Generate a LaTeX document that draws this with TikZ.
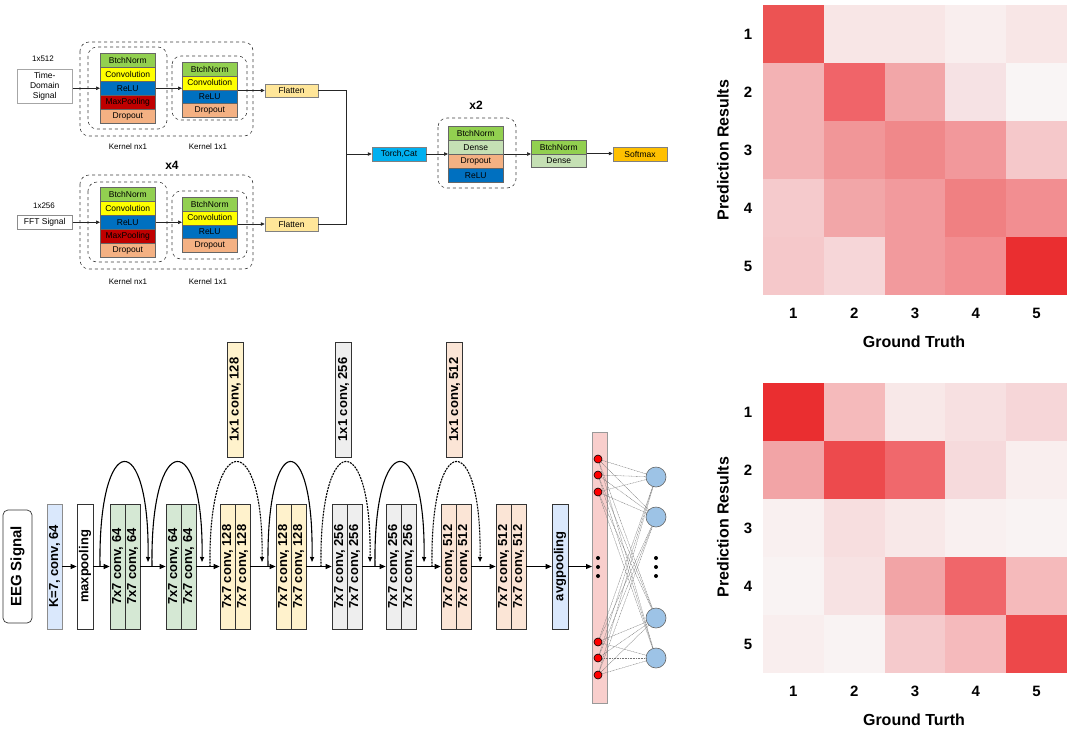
\documentclass[tikz,border=0pt]{standalone}
\usepackage{fontspec}
\setmainfont{Liberation Sans}
\usepackage{graphicx}
\usetikzlibrary{arrows.meta}
\definecolor{cbn}{HTML}{92D050}
\definecolor{cconv}{HTML}{FFFF00}
\definecolor{crelu}{HTML}{0070C0}
\definecolor{cmax}{HTML}{C00000}
\definecolor{cdrop}{HTML}{F4B183}
\definecolor{cdense}{HTML}{C5E0B4}
\definecolor{cflat}{HTML}{FFE699}
\definecolor{ctorch}{HTML}{00B0F0}
\definecolor{csoft}{HTML}{FFC000}
\definecolor{bblue}{HTML}{DAE8FC}
\definecolor{bgreen}{HTML}{D5E8D4}
\definecolor{byel}{HTML}{FFF2CC}
\definecolor{bgray}{HTML}{EEEEEE}
\definecolor{bpeach}{HTML}{FBE5D6}
\definecolor{bbar}{HTML}{F8CECC}
\definecolor{nblue}{HTML}{9DC3E6}
% top heatmap
\definecolor{ha11}{RGB}{236,83,83}\definecolor{ha12}{RGB}{248,230,230}\definecolor{ha13}{RGB}{248,230,230}\definecolor{ha14}{RGB}{249,238,238}\definecolor{ha15}{RGB}{248,230,230}
\definecolor{ha21}{RGB}{243,178,180}\definecolor{ha22}{RGB}{240,100,105}\definecolor{ha23}{RGB}{242,166,168}\definecolor{ha24}{RGB}{246,226,228}\definecolor{ha25}{RGB}{249,245,245}
\definecolor{ha31}{RGB}{243,178,180}\definecolor{ha32}{RGB}{241,150,152}\definecolor{ha33}{RGB}{240,136,138}\definecolor{ha34}{RGB}{242,152,155}\definecolor{ha35}{RGB}{245,200,202}
\definecolor{ha41}{RGB}{245,202,204}\definecolor{ha42}{RGB}{242,166,168}\definecolor{ha43}{RGB}{242,154,157}\definecolor{ha44}{RGB}{240,128,130}\definecolor{ha45}{RGB}{242,142,145}
\definecolor{ha51}{RGB}{245,200,202}\definecolor{ha52}{RGB}{246,214,216}\definecolor{ha53}{RGB}{242,154,157}\definecolor{ha54}{RGB}{242,142,145}\definecolor{ha55}{RGB}{234,46,48}
% bottom heatmap
\definecolor{hb11}{RGB}{234,46,48}\definecolor{hb12}{RGB}{245,186,187}\definecolor{hb13}{RGB}{248,232,232}\definecolor{hb14}{RGB}{247,224,225}\definecolor{hb15}{RGB}{246,214,216}
\definecolor{hb21}{RGB}{242,164,166}\definecolor{hb22}{RGB}{237,74,77}\definecolor{hb23}{RGB}{240,104,108}\definecolor{hb24}{RGB}{246,218,220}\definecolor{hb25}{RGB}{249,238,238}
\definecolor{hb31}{RGB}{249,240,240}\definecolor{hb32}{RGB}{247,222,223}\definecolor{hb33}{RGB}{248,232,232}\definecolor{hb34}{RGB}{249,240,240}\definecolor{hb35}{RGB}{249,243,243}
\definecolor{hb41}{RGB}{249,243,243}\definecolor{hb42}{RGB}{247,226,227}\definecolor{hb43}{RGB}{242,164,166}\definecolor{hb44}{RGB}{240,102,106}\definecolor{hb45}{RGB}{245,186,187}
\definecolor{hb51}{RGB}{249,238,238}\definecolor{hb52}{RGB}{249,243,243}\definecolor{hb53}{RGB}{245,202,204}\definecolor{hb54}{RGB}{245,186,188}\definecolor{hb55}{RGB}{237,72,74}
\tikzset{
 lay/.style={draw=black!60, line width=0.5pt, minimum width=55pt, minimum height=14pt, inner sep=0pt, anchor=north west, font=\fontsize{8.5}{9}\selectfont},
 layb/.style={lay, minimum height=13.75pt},
 sm/.style={font=\fontsize{8}{9}\selectfont},
 tbox/.style={draw=black!50, line width=0.5pt, inner sep=0pt, font=\fontsize{8.5}{9}\selectfont},
 tarr/.style={-{Triangle[length=4pt,width=3.5pt]}, line width=0.7pt, draw=black!85},
 dbox/.style={dashed, line width=0.6pt, draw=black!75, rounded corners=9pt},
 col/.style={draw=black!80, line width=0.7pt, minimum width=15pt, minimum height=125pt, inner sep=0pt, font=\fontsize{13}{14}\selectfont\bfseries},
 onebox/.style={col, minimum width=16pt, minimum height=115pt},
 barr/.style={-{Triangle[length=6pt,width=5pt]}, line width=1pt},
 skiparc/.style={-{Triangle[length=5pt,width=4pt]}, line width=1.1pt},
 dskiparc/.style={skiparc, dash pattern=on 2pt off 1pt},
 conn/.style={draw=black!55, line width=0.35pt, dash pattern=on 1pt off 0.6pt},
 rdot/.style={circle, draw=black, line width=0.6pt, fill=red, minimum size=8pt, inner sep=0pt},
 bcirc/.style={circle, draw=black!60, line width=0.6pt, fill=nblue, minimum size=20pt, inner sep=0pt},
 hm/.style={font=\fontsize{15}{16}\selectfont\bfseries},
 ht/.style={font=\fontsize{16}{17}\selectfont\bfseries}
}
\begin{document}
\begin{tikzpicture}[x=1pt,y=-1pt]
\useasboundingbox (0,0) rectangle (1080,732);
\fill[white] (0,0) rectangle (1080,732);

% ================= top diagram =================
\draw[dbox] (80,42) rectangle (253,136);
\draw[dbox] (88,47) rectangle (167,129);
\draw[dbox] (172,56) rectangle (247,120);
\draw[dbox] (80,175) rectangle (253,269);
\draw[dbox] (88,182) rectangle (167,262);
\draw[dbox] (172,191) rectangle (247,259);
\draw[dbox] (438,118) rectangle (516,188);

\node[sm] (l512) at (43,59) {1x512};
\node[draw=black!35, line width=0.5pt, minimum width=55pt, minimum height=34pt, anchor=north west, inner sep=0pt, align=center, font=\fontsize{8.5}{10}\selectfont] (td) at (17,69) {Time-\\Domain\\Signal};
\node[sm] (l256) at (44,206) {1x256};
\node[draw=black!45, line width=0.5pt, minimum width=55pt, minimum height=14pt, anchor=north west, inner sep=0pt, font=\fontsize{8.5}{9}\selectfont] (fft) at (17,215) {FFT Signal};

\node[lay, fill=cbn] (a1) at (100,53) {BtchNorm};
\node[lay, fill=cconv] (a2) at (100,67) {Convolution};
\node[lay, fill=crelu] (a3) at (100,81) {ReLU};
\node[lay, fill=cmax] (a4) at (100,95) {MaxPooling};
\node[lay, fill=cdrop] (a5) at (100,109) {Dropout};
\node[layb, fill=cbn] (b1) at (182,62) {BtchNorm};
\node[layb, fill=cconv] (b2) at (182,75.75) {Convolution};
\node[layb, fill=crelu] (b3) at (182,89.5) {ReLU};
\node[layb, fill=cdrop] (b4) at (182,103.25) {Dropout};
\node[tbox, fill=cflat, minimum width=53pt, minimum height=13pt] (fl1) at (291.5,90.5) {Flatten};

\node[lay, fill=cbn] (c1) at (100,187) {BtchNorm};
\node[lay, fill=cconv] (c2) at (100,201) {Convolution};
\node[lay, fill=crelu] (c3) at (100,215) {ReLU};
\node[lay, fill=cmax] (c4) at (100,229) {MaxPooling};
\node[lay, fill=cdrop] (c5) at (100,243) {Dropout};
\node[layb, fill=cbn] (d1) at (182,197) {BtchNorm};
\node[layb, fill=cconv] (d2) at (182,210.75) {Convolution};
\node[layb, fill=crelu] (d3) at (182,224.5) {ReLU};
\node[layb, fill=cdrop] (d4) at (182,238.25) {Dropout};
\node[tbox, fill=cflat, minimum width=53pt, minimum height=14pt] (fl2) at (291.5,224) {Flatten};

\node[sm] (kn1) at (128,147) {Kernel nx1};
\node[sm] (k11) at (208,147) {Kernel 1x1};
\node[sm] (kn2) at (128,282) {Kernel nx1};
\node[sm] (k12) at (208,282) {Kernel 1x1};
\node[font=\fontsize{12}{13}\selectfont\bfseries] (x4) at (172,165) {x4};
\node[font=\fontsize{12}{13}\selectfont\bfseries] (x2) at (476,105) {x2};

\node[tbox, fill=ctorch, minimum width=54pt, minimum height=14pt] (tc) at (399,154) {Torch,Cat};
\node[lay, fill=cbn] (e1) at (448,126) {BtchNorm};
\node[lay, fill=cdense] (e2) at (448,140) {Dense};
\node[lay, fill=cdrop] (e3) at (448,154) {Dropout};
\node[lay, fill=crelu] (e4) at (448,168) {ReLU};
\node[lay, fill=cbn, minimum height=13.5pt] (f1) at (531,140) {BtchNorm};
\node[lay, fill=cdense, minimum height=13.5pt] (f2) at (531,153.5) {Dense};
\node[tbox, fill=csoft, minimum width=54pt, minimum height=14pt] (sm) at (640,154) {Softmax};

\draw[tarr] (td.east |- a3.west) -- (a3.west);
\draw[tarr] (a3.east) -- (a3.east -| b1.west);
\draw[tarr] (fl1.west -| b1.east) -- (fl1.west);
\draw[tarr] (fft.east) -- (fft.east -| c3.west);
\draw[tarr] (c3.east) -- (c3.east -| d1.west);
\draw[tarr] (fl2.west -| d1.east) -- (fl2.west);
\coordinate (mrg) at (346,154);
\draw[line width=0.8pt, draw=black!85] (fl1.east) -| (mrg);
\draw[line width=0.8pt, draw=black!85] (fl2.east) -| (mrg);
\draw[tarr] (mrg) -- (tc.west);
\draw[tarr] (tc.east) -- (tc.east -| e1.west);
\draw[tarr] (e3.north east) -- (e3.north east -| f1.west);
\draw[tarr] (f2.north east) -- (f2.north east -| sm.west);

% ================= bottom ResNet =================
\node[col, draw=black!80, minimum width=29pt, minimum height=113pt, rounded corners=5pt, font=\fontsize{15}{16}\selectfont\bfseries] (eeg) at (17.5,566.5) {\rotatebox{90}{EEG Signal}};
\node[col, fill=bblue, draw=black!45] (k7) at (54.5,566.5) {\rotatebox{90}{K=7, conv, 64}};
\node[col, fill=white, minimum width=16pt] (mp) at (85,566.5) {\rotatebox{90}{maxpooling}};
\node[col, fill=bgreen] (g1a) at (117.5,566.5) {\rotatebox{90}{7x7 conv, 64}};
\node[col, fill=bgreen] (g1b) at (132.5,566.5) {\rotatebox{90}{7x7 conv, 64}};
\node[col, fill=bgreen] (g2a) at (173.5,566.5) {\rotatebox{90}{7x7 conv, 64}};
\node[col, fill=bgreen] (g2b) at (188.5,566.5) {\rotatebox{90}{7x7 conv, 64}};
\node[col, fill=byel] (y1a) at (227.5,566.5) {\rotatebox{90}{7x7 conv, 128}};
\node[col, fill=byel] (y1b) at (242.5,566.5) {\rotatebox{90}{7x7 conv, 128}};
\node[col, fill=byel] (y2a) at (283.5,566.5) {\rotatebox{90}{7x7 conv, 128}};
\node[col, fill=byel] (y2b) at (298.5,566.5) {\rotatebox{90}{7x7 conv, 128}};
\node[col, fill=bgray] (s1a) at (339.5,566.5) {\rotatebox{90}{7x7 conv, 256}};
\node[col, fill=bgray] (s1b) at (354.5,566.5) {\rotatebox{90}{7x7 conv, 256}};
\node[col, fill=bgray] (s2a) at (393.5,566.5) {\rotatebox{90}{7x7 conv, 256}};
\node[col, fill=bgray] (s2b) at (408.5,566.5) {\rotatebox{90}{7x7 conv, 256}};
\node[col, fill=bpeach] (p1a) at (448.5,566.5) {\rotatebox{90}{7x7 conv, 512}};
\node[col, fill=bpeach] (p1b) at (463.5,566.5) {\rotatebox{90}{7x7 conv, 512}};
\node[col, fill=bpeach] (p2a) at (503.5,566.5) {\rotatebox{90}{7x7 conv, 512}};
\node[col, fill=bpeach] (p2b) at (518.5,566.5) {\rotatebox{90}{7x7 conv, 512}};
\node[col, fill=bblue, minimum width=16pt] (avg) at (560,566.5) {\rotatebox{90}{avgpooling}};
\node[onebox, fill=byel] (o128) at (235,399.5) {\rotatebox{90}{1x1 conv, 128}};
\node[onebox, fill=bgray] (o256) at (343.5,399.5) {\rotatebox{90}{1x1 conv, 256}};
\node[onebox, fill=bpeach] (o512) at (454.5,399.5) {\rotatebox{90}{1x1 conv, 512}};
\node[draw=black!40, line width=0.7pt, fill=bbar, minimum width=15pt, minimum height=271pt, inner sep=0pt, anchor=north west] (bar) at (592,432) {};

\draw[barr] (k7.east) -- (mp.west);
\draw[barr] (mp.east) -- (g1a.west);
\draw[barr] (g1b.east) -- (g2a.west);
\draw[barr] (g2b.east) -- (y1a.west);
\draw[barr] (y1b.east) -- (y2a.west);
\draw[barr] (y2b.east) -- (s1a.west);
\draw[barr] (s1b.east) -- (s2a.west);
\draw[barr] (s2b.east) -- (p1a.west);
\draw[barr] (p1b.east) -- (p2a.west);
\draw[barr] (p2b.east) -- (avg.west);
\draw[barr] (avg.east) -- (bar.west |- avg.east);

\foreach \n/\xa/\xb in {1/100/148, 2/152/202, 3/210/262, 4/268/312, 5/321/370, 6/375/424, 7/432/480}{
  \coordinate (sa\n) at (\xa,566.5);
  \coordinate (sb\n) at (\xb,562);
}
\foreach \n/\xa/\xb in {1/100/148, 2/152/202, 4/268/312, 6/375/424}{
  \draw[skiparc] (sa\n) .. controls (\xa-2,428) and (\xb+2,428) .. (sb\n);
}
\foreach \n/\xa/\xb in {3/210/262, 5/321/370, 7/432/480}{
  \draw[dskiparc] (sa\n) .. controls (\xa-2,428) and (\xb+2,428) .. (sb\n);
}

\node[rdot] (r1) at (598,459) {};
\node[rdot] (r2) at (598,475) {};
\node[rdot] (r3) at (598,492) {};
\node[rdot] (r4) at (598,642) {};
\node[rdot] (r5) at (598,658) {};
\node[rdot] (r6) at (598,675) {};
\node[bcirc] (n1) at (656,477) {};
\node[bcirc] (n2) at (656,517) {};
\node[bcirc] (n3) at (656,618) {};
\node[bcirc] (n4) at (656,658) {};
\foreach \i in {1,...,6}{\foreach \j in {1,...,4}{\draw[conn] (r\i) -- (n\j);}}
\foreach \k/\yy in {1/558,2/567,3/576}{
  \fill (598,\yy) circle (2pt);
  \fill (656,\yy) circle (2pt);
}

% ================= heatmaps =================
\foreach \r in {1,...,5}{\foreach \c in {1,...,5}{
  \fill[ha\r\c] ({763+(\c-1)*60.8},{5+(\r-1)*58}) rectangle ++(60.8,58);
  \fill[hb\r\c] ({763+(\c-1)*60.8},{383+(\r-1)*58}) rectangle ++(60.8,58);
}}
\foreach \k in {1,...,5}{
  \node[hm] (ra\k) at (748,{34+(\k-1)*58}) {\k};
  \node[hm] (rb\k) at (748,{412+(\k-1)*58}) {\k};
  \node[hm] (ca\k) at ({793.4+(\k-1)*60.8},313) {\k};
  \node[hm] (cb\k) at ({793.4+(\k-1)*60.8},691) {\k};
}
\node[ht] (gta) at (914,342) {Ground Truth};
\node[ht] (gtb) at (914,720) {Ground Turth};
\node[ht, rotate=90] (pra) at (723,150) {Prediction Results};
\node[ht, rotate=90] (prb) at (723,527) {Prediction Results};
\end{tikzpicture}
\end{document}
